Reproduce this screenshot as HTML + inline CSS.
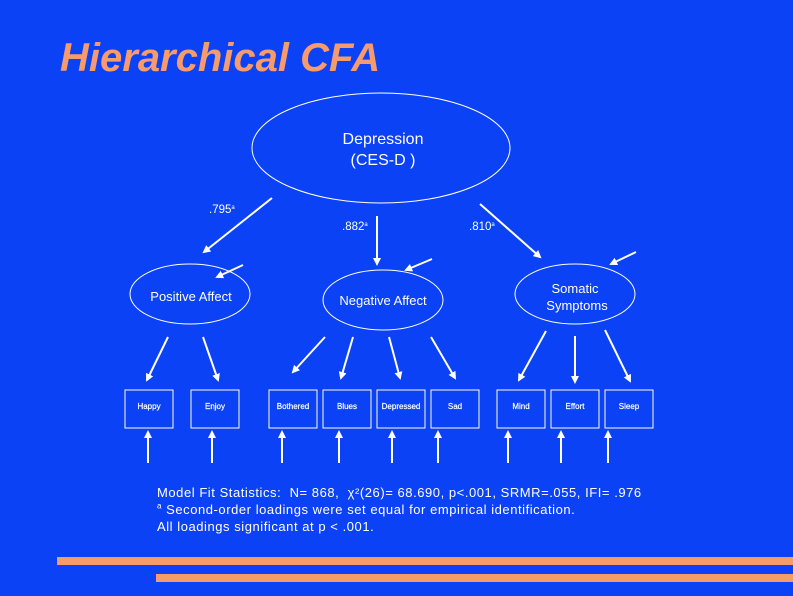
<!DOCTYPE html>
<html><head><meta charset="utf-8"><style>
html,body{margin:0;padding:0;}
body{width:793px;height:596px;background:#0b42f6;overflow:hidden;position:relative;font-family:"Liberation Sans",sans-serif;}
.t{position:absolute;left:60px;top:36px;font-size:40px;font-weight:bold;font-style:italic;color:#f79a6c;white-space:nowrap;}
.bar{position:absolute;background:#f79a6c;}
.note{position:absolute;left:157px;top:484px;color:#fff;font-size:13px;letter-spacing:0.55px;line-height:17px;white-space:nowrap;}
</style></head><body>
<div class="t">Hierarchical CFA</div>
<svg width="793" height="596" style="position:absolute;left:0;top:0" font-family="Liberation Sans, sans-serif">
<defs><marker id="a" markerWidth="8" markerHeight="8" refX="6" refY="4" orient="auto" markerUnits="userSpaceOnUse"><path d="M0,0 L8,4 L0,8 Z" fill="#fff"/></marker></defs>
<g fill="none" stroke="#fff" stroke-width="1">
<ellipse cx="381" cy="148" rx="129" ry="55"/>
<ellipse cx="190" cy="294" rx="60" ry="30"/>
<ellipse cx="383" cy="300" rx="60" ry="30"/>
<ellipse cx="575" cy="294" rx="60" ry="30"/>
<rect x="125" y="390" width="48" height="38"/>
<rect x="191" y="390" width="48" height="38"/>
<rect x="269" y="390" width="48" height="38"/>
<rect x="323" y="390" width="48" height="38"/>
<rect x="377" y="390" width="48" height="38"/>
<rect x="431" y="390" width="48" height="38"/>
<rect x="497" y="390" width="48" height="38"/>
<rect x="551" y="390" width="48" height="38"/>
<rect x="605" y="390" width="48" height="38"/>
</g>
<g stroke="#fff" stroke-width="2" marker-end="url(#a)">
<line x1="272" y1="198" x2="204" y2="252"/>
<line x1="377" y1="216" x2="377" y2="264"/>
<line x1="480" y1="204" x2="540" y2="257"/>
<line x1="243" y1="265" x2="217" y2="277"/>
<line x1="432" y1="259" x2="406" y2="270"/>
<line x1="636" y1="252" x2="611" y2="264"/>
<line x1="168" y1="337" x2="147" y2="380"/>
<line x1="203" y1="337" x2="218" y2="380"/>
<line x1="325" y1="337" x2="293" y2="372"/>
<line x1="353" y1="337" x2="341" y2="378"/>
<line x1="389" y1="337" x2="400" y2="378"/>
<line x1="431" y1="337" x2="455" y2="378"/>
<line x1="546" y1="331" x2="519" y2="380"/>
<line x1="575" y1="336" x2="575" y2="382"/>
<line x1="605" y1="330" x2="630" y2="381"/>
<line x1="148" y1="463" x2="148" y2="432"/>
<line x1="212" y1="463" x2="212" y2="432"/>
<line x1="282" y1="463" x2="282" y2="432"/>
<line x1="339" y1="463" x2="339" y2="432"/>
<line x1="392" y1="463" x2="392" y2="432"/>
<line x1="438" y1="463" x2="438" y2="432"/>
<line x1="508" y1="463" x2="508" y2="432"/>
<line x1="561" y1="463" x2="561" y2="432"/>
<line x1="608" y1="463" x2="608" y2="432"/>
</g>
<g fill="#fff" text-anchor="middle">
<text x="383" y="144" font-size="16">Depression</text>
<text x="383" y="165" font-size="16">(CES-D )</text>
<text x="191" y="301" font-size="13">Positive Affect</text>
<text x="383" y="305" font-size="13">Negative Affect</text>
<text x="575" y="293" font-size="13">Somatic</text>
<text x="577" y="310" font-size="13">Symptoms</text>
<g font-size="8" stroke="#fff" stroke-width="0.2">
<text x="149" y="409">Happy</text><text x="215" y="409">Enjoy</text>
<text x="293" y="409">Bothered</text><text x="347" y="409">Blues</text>
<text x="401" y="409">Depressed</text><text x="455" y="409">Sad</text>
<text x="521" y="409">Mind</text><text x="575" y="409">Effort</text>
<text x="629" y="409">Sleep</text>
</g>
</g>
<g fill="#fff" font-size="11.5">
<text x="209" y="213">.795<tspan font-size="6" dy="-4">a</tspan></text>
<text x="342" y="230">.882<tspan font-size="6" dy="-4">a</tspan></text>
<text x="469" y="230">.810<tspan font-size="6" dy="-4">a</tspan></text>
</g>
</svg>
<div class="note">Model Fit Statistics:&nbsp; N= 868,&nbsp; χ²(26)= 68.690, p&lt;.001, SRMR=.055, IFI= .976<br><sup style="font-size:8px;line-height:0">a</sup> Second-order loadings were set equal for empirical identification.<br>All loadings significant at p &lt; .001.</div>
<div class="bar" style="left:57px;top:557px;width:736px;height:8px"></div>
<div class="bar" style="left:156px;top:574px;width:637px;height:8px"></div>
</body></html>
